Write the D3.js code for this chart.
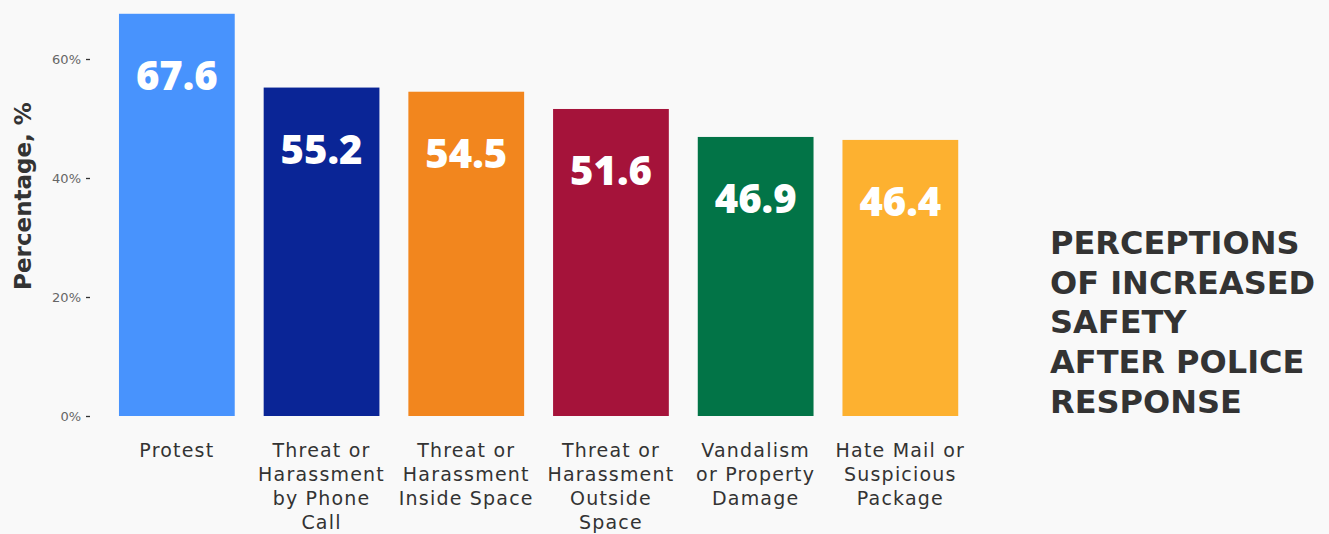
<!DOCTYPE html>
<html>
<head>
<meta charset="utf-8">
<script src="https://cdn.jsdelivr.net/npm/d3@7"></script>
<style>
  body { margin: 0; background: #f9f9f9; }
  svg { display: block; font-family: "DejaVu Sans", sans-serif; }
</style>
</head>
<body>
<script>
var categories = ["Protest", "Threat or Harassment by Phone Call", "Threat or Harassment Inside Space",
                  "Threat or Harassment Outside Space", "Vandalism or Property Damage", "Hate Mail or Suspicious Package"];
var labelLines = [["Protest"], ["Threat or", "Harassment", "by Phone", "Call"], ["Threat or", "Harassment", "Inside Space"],
                  ["Threat or", "Harassment", "Outside", "Space"], ["Vandalism", "or Property", "Damage"], ["Hate Mail or", "Suspicious", "Package"]];
var values = [67.6, 55.2, 54.5, 51.6, 46.9, 46.4];
var colors = ["#4893fd", "#0a2596", "#f2861e", "#a5133a", "#027447", "#fdb130"];
var yTicks = [0, 20, 40, 60];
var titleLines = ["PERCEPTIONS", "OF INCREASED", "SAFETY", "AFTER POLICE", "RESPONSE"];

var svg = d3.select("body").append("svg")
            .attr("width", 1329).attr("height", 534);

var x = d3.scaleBand().domain(categories).range([104.5, 972.7])
          .paddingInner(0.2).paddingOuter(0.1);
var y = d3.scaleLinear().domain([0, 60]).range([416, 59]);

// y axis
var yAxis = svg.append("g").attr("transform", "translate(90,0)")
    .call(d3.axisLeft(y).tickValues(yTicks).tickFormat(function(d){ return d + "%"; })
          .tickSize(4).tickPadding(5));
yAxis.select(".domain").remove();
yAxis.selectAll(".tick line").attr("stroke", "#333").attr("stroke-width", 1.3);
yAxis.selectAll(".tick text").attr("fill", "#666").style("font-size", "13px")
    .style("font-family", "DejaVu Sans");

svg.append("text")
    .attr("transform", "translate(31,196) rotate(-90)")
    .attr("text-anchor", "middle")
    .style("font-size", "23px").style("font-weight", "700").attr("fill", "#333")
    .text("Percentage, %");

// bars
svg.append("g").selectAll("rect")
    .data(values)
    .enter().append("rect")
    .attr("x", function(d, i){ return x(categories[i]); })
    .attr("y", function(d){ return y(d); })
    .attr("width", x.bandwidth())
    .attr("height", function(d){ return y(0) - y(d); })
    .attr("fill", function(d, i){ return colors[i]; });

// value labels
svg.append("g").selectAll("text")
    .data(values)
    .enter().append("text")
    .attr("x", function(d, i){ return x(categories[i]) + x.bandwidth() / 2; })
    .attr("y", function(d){ return y(d) + 76; })
    .attr("text-anchor", "middle")
    .style("font-family", "'Open Sans', sans-serif")
    .style("font-size", "40px").style("font-weight", "800").attr("fill", "#fff")
    .text(function(d){ return d.toFixed(1); });

// category labels
var cat = svg.append("g").selectAll("text")
    .data(labelLines)
    .enter().append("text")
    .attr("text-anchor", "middle")
    .attr("x", function(d, i){ return x(categories[i]) + x.bandwidth() / 2; })
    .attr("y", 457)
    .style("font-size", "19px").style("letter-spacing", "1.2px").attr("fill", "#333");
cat.selectAll("tspan")
    .data(function(d){ return d; })
    .enter().append("tspan")
    .attr("x", function(){ return d3.select(this.parentNode).attr("x"); })
    .attr("dy", function(d, i){ return i === 0 ? 0 : 24; })
    .text(function(d){ return d; });

// title
svg.append("g").selectAll("text")
    .data(titleLines)
    .enter().append("text")
    .attr("x", 1050)
    .attr("y", function(d, i){ return 254 + i * 39.7; })
    .style("font-size", "32px").style("font-weight", "700").attr("fill", "#333")
    .text(function(d){ return d; });
</script>
</body>
</html>
